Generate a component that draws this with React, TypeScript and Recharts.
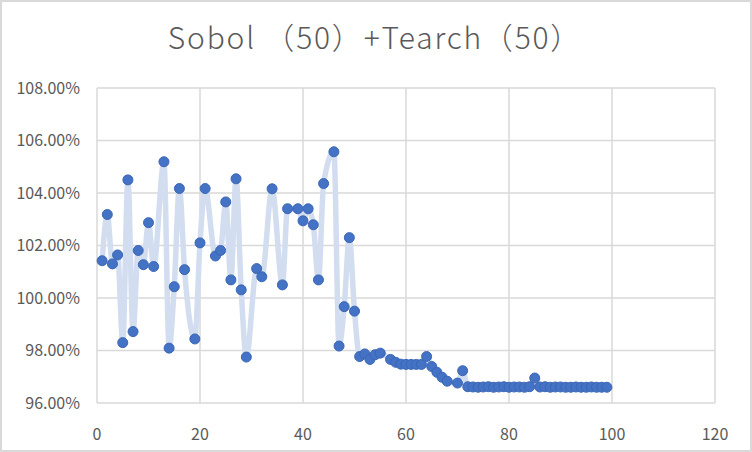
import React from 'react';
import { LineChart, Line, XAxis, YAxis, CartesianGrid } from 'recharts';

const xValues = [
  1, 2, 3, 4, 5, 6, 7, 8, 9, 10, 11, 13, 14, 15, 16, 17, 19, 20, 21, 23,
  24, 25, 26, 27, 28, 29, 31, 32, 34, 36, 37, 39, 40, 41, 42, 43, 44, 46, 47, 48,
  49, 50, 51, 52, 53, 54, 55, 57, 58, 59, 60, 61, 62, 63, 64, 65, 66, 67, 68, 70,
  71, 72, 73, 74, 75, 76, 77, 78, 79, 80, 81, 82, 83, 84, 85, 86, 87, 88, 89, 90,
  91, 92, 93, 94, 95, 96, 97, 98, 99,
];

const yValues = [
  101.42, 103.18, 101.3, 101.64, 98.3, 104.5, 98.72, 101.81, 101.27, 102.87, 101.2, 105.19, 98.09, 100.43, 104.17, 101.08, 98.44, 102.1, 104.17, 101.6,
  101.81, 103.66, 100.69, 104.54, 100.31, 97.75, 101.12, 100.81, 104.16, 100.5, 103.4, 103.4, 102.94, 103.4, 102.79, 100.69, 104.36, 105.57, 98.17, 99.67,
  102.3, 99.5, 97.77, 97.87, 97.66, 97.84, 97.9, 97.66, 97.55, 97.48, 97.47, 97.47, 97.47, 97.47, 97.77, 97.39, 97.17, 96.98, 96.83, 96.76,
  97.23, 96.62, 96.61, 96.6, 96.61, 96.62, 96.6, 96.61, 96.62, 96.6, 96.61, 96.61, 96.6, 96.62, 96.95, 96.61, 96.62, 96.6, 96.61, 96.61,
  96.6, 96.6, 96.61, 96.6, 96.6, 96.61, 96.6, 96.6, 96.6,
];

const xTicks = [0, 20, 40, 60, 80, 100, 120];
const yTicks = [96, 98, 100, 102, 104, 106, 108];

const data = xValues.map((x, i) => ({ x, y: yValues[i] }));

const tickStyle = { fill: '#595959', fontSize: 16, fontFamily: '"Noto Sans CJK SC", "Noto Sans", sans-serif' };

export default function App() {
  return (
    <div style={{ position: 'absolute', left: 0, top: 0, width: 752, height: 452, background: '#fff', overflow: 'hidden' }}>
      <div
        style={{
          position: 'absolute',
          left: 10,
          top: 14,
          width: 730,
          textAlign: 'center',
          fontSize: 30,
          fontWeight: 300,
          letterSpacing: 1.8,
          color: '#595959',
          fontFamily: '"Noto Sans CJK SC", sans-serif',
          lineHeight: '44px',
        }}
      >
        Sobol （50）+Tearch（50）
      </div>
      <LineChart
        width={752}
        height={452}
        data={data}
        margin={{ top: 88, right: 37, bottom: 0, left: 17 }}
      >
        <CartesianGrid stroke="#d9d9d9" strokeWidth={1.5} />
        <XAxis
          dataKey="x"
          type="number"
          domain={[0, 120]}
          ticks={xTicks}
          height={49}
          axisLine={false}
          tickLine={false}
          tickSize={8}
          tickMargin={18}
          tick={tickStyle}
          interval={0}
        />
        <YAxis
          type="number"
          domain={[96, 108]}
          ticks={yTicks}
          width={80}
          axisLine={false}
          tickLine={false}
          tickSize={8}
          tickMargin={9}
          tick={tickStyle}
          interval={0}
          tickFormatter={(v: number) => v.toFixed(2) + '%'}
        />
        <Line
          dataKey="y"
          type="monotone"
          stroke="#d3ddf0"
          strokeWidth={5.5}
          dot={{ r: 5, fill: '#4472c4', stroke: '#3b66b5', strokeWidth: 1 }}
          isAnimationActive={false}
        />
      </LineChart>
      <div
        style={{
          position: 'absolute',
          left: 0,
          top: 0,
          width: 752,
          height: 452,
          boxSizing: 'border-box',
          border: '2px solid #d9d9d9',
          pointerEvents: 'none',
        }}
      />
    </div>
  );
}
